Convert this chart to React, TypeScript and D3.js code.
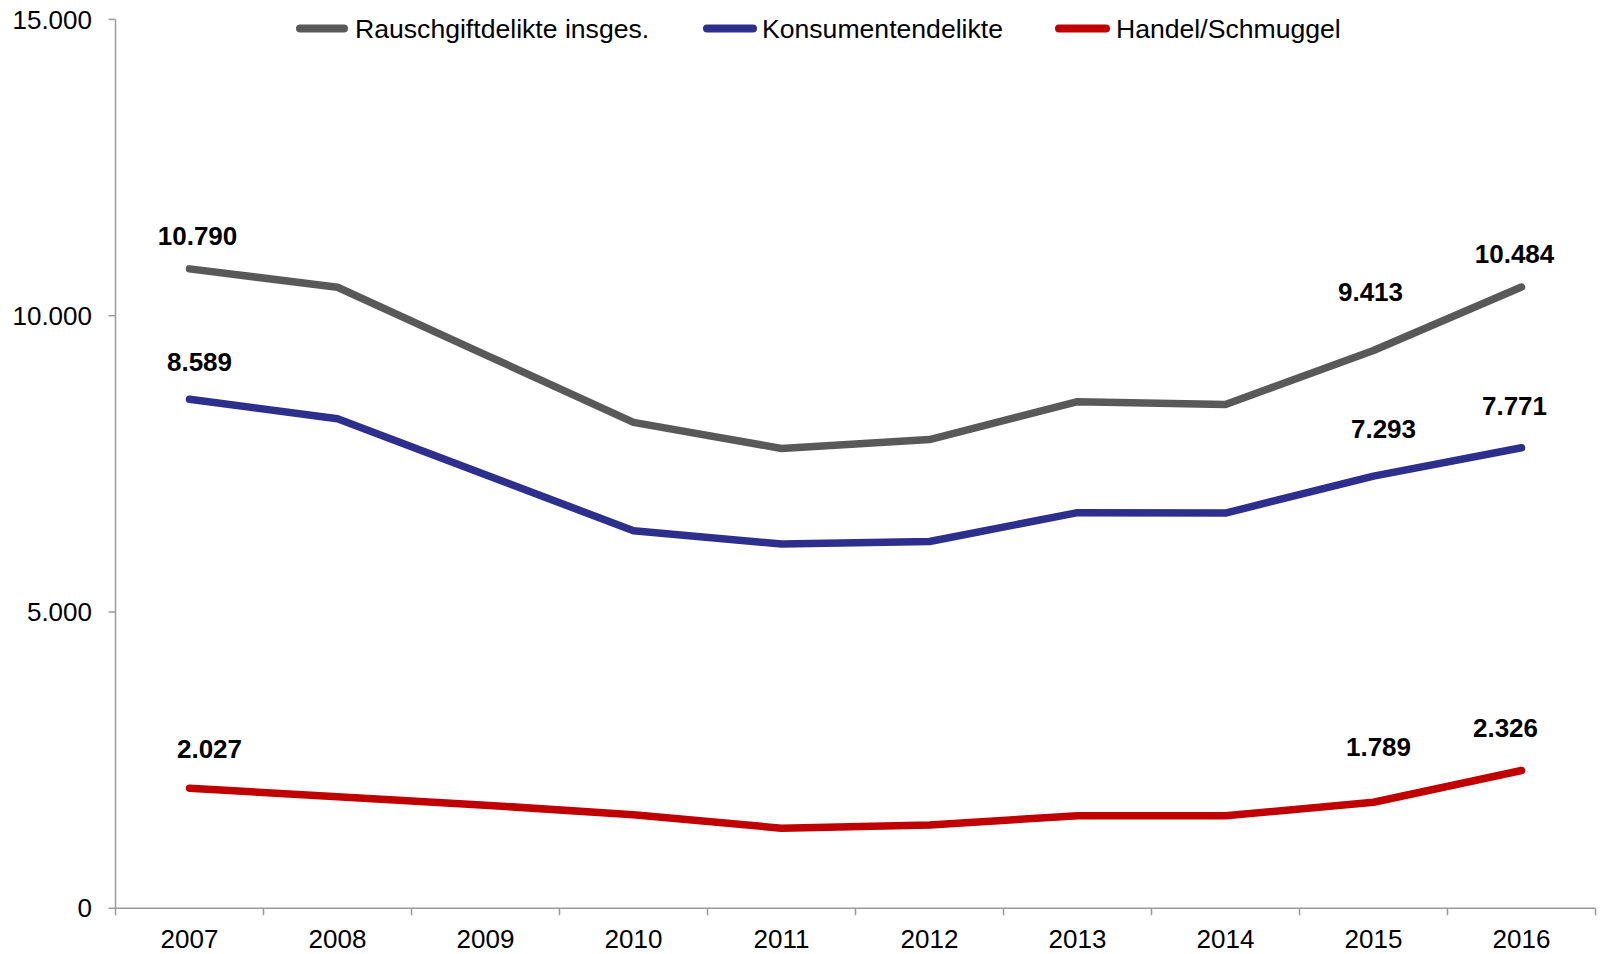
import React from "react";
import * as d3 from "d3";

const years = ["2007", "2008", "2009", "2010", "2011", "2012", "2013", "2014", "2015", "2016"];
const insgesamt = [10790, 10480, 9340, 8200, 7760, 7910, 8550, 8500, 9413, 10484];
const konsumenten = [8589, 8260, 7315, 6372, 6147, 6190, 6676, 6670, 7293, 7771];
const handel = [2027, 1882, 1740, 1580, 1352, 1405, 1562, 1560, 1789, 2326];
const yTicks = [0, 5000, 10000, 15000];

const seriesNames = ["Rauschgiftdelikte insges.", "Konsumentendelikte", "Handel/Schmuggel"];
const seriesColors = ["#595959", "#2E2E8C", "#C00000"];
// which points carry a label (indices), per series
const labelIdx = [[0, 8, 9], [0, 8, 9], [0, 8, 9]];
// label offsets (style): [dx, dy] relative to point
const labelOffsets = [
  [[8, -24], [-3, -49], [-7, -24]],
  [[10, -28], [10, -38], [-7, -33]],
  [[20, -30], [5, -46], [-16, -33]],
];
const legendX = [[296, 348, 355], [703, 757, 762], [1055, 1110, 1116]];

const W = 1602;
const H = 954;
const x0 = 115.5;
const x1 = 1595.5;
const yTop = 19.4;
const yBot = 908.3;

const fmt = (v: number) => d3.format(",")(v).replace(/,/g, ".");

export default function App() {
  const x = d3.scaleBand<string>().domain(years).range([x0, x1]);
  const y = d3.scaleLinear().domain([0, 15000]).range([yBot, yTop]);
  const series = [insgesamt, konsumenten, handel];
  const line = d3
    .line<number>()
    .x((_, i) => (x(years[i]) as number) + x.bandwidth() / 2)
    .y((d) => y(d));
  const font = "'Liberation Sans', Arial, sans-serif";
  const axisColor = "#9a9a9a";
  const boundaries = d3.range(years.length + 1).map((i) => x0 + i * x.bandwidth());

  return (
    <svg
      width={W}
      height={H}
      style={{ position: "absolute", left: 0, top: 0, background: "#fff" }}
      fontFamily={font}
    >
      {/* y axis */}
      <line x1={x0} x2={x0} y1={yTop} y2={yBot} stroke={axisColor} strokeWidth={1.5} />
      {yTicks.map((t) => (
        <g key={t}>
          <line x1={x0 - 7} x2={x0} y1={y(t)} y2={y(t)} stroke={axisColor} strokeWidth={1.5} />
          <text x={92} y={y(t)} dy="0.35em" textAnchor="end" fontSize={26} fill="#000">
            {fmt(t)}
          </text>
        </g>
      ))}
      {/* x axis */}
      <line x1={x0} x2={x1} y1={yBot} y2={yBot} stroke={axisColor} strokeWidth={1.5} />
      {boundaries.map((b, i) => (
        <line key={i} x1={b} x2={b} y1={yBot} y2={yBot + 7} stroke={axisColor} strokeWidth={1.5} />
      ))}
      {years.map((yr) => (
        <text
          key={yr}
          x={(x(yr) as number) + x.bandwidth() / 2}
          y={948}
          textAnchor="middle"
          fontSize={26}
          fill="#000"
        >
          {yr}
        </text>
      ))}
      {/* lines */}
      {series.map((s, si) => (
        <path
          key={si}
          d={line(s) || ""}
          fill="none"
          stroke={seriesColors[si]}
          strokeWidth={7.5}
          strokeLinecap="round"
          strokeLinejoin="round"
        />
      ))}
      {/* labels */}
      {series.map((s, si) =>
        labelIdx[si].map((idx, k) => (
          <text
            key={`${si}-${idx}`}
            x={(x(years[idx]) as number) + x.bandwidth() / 2 + labelOffsets[si][k][0]}
            y={y(s[idx]) + labelOffsets[si][k][1]}
            textAnchor="middle"
            fontSize={26}
            fontWeight="bold"
            fill="#000"
          >
            {fmt(s[idx])}
          </text>
        ))
      )}
      {/* legend */}
      {seriesNames.map((n, i) => (
        <g key={n}>
          <line
            x1={legendX[i][0] + 4}
            x2={legendX[i][1] - 4}
            y1={28.6}
            y2={28.6}
            stroke={seriesColors[i]}
            strokeWidth={8}
            strokeLinecap="round"
          />
          <text x={legendX[i][2]} y={38} fontSize={26.6} fill="#000">
            {n}
          </text>
        </g>
      ))}
    </svg>
  );
}
